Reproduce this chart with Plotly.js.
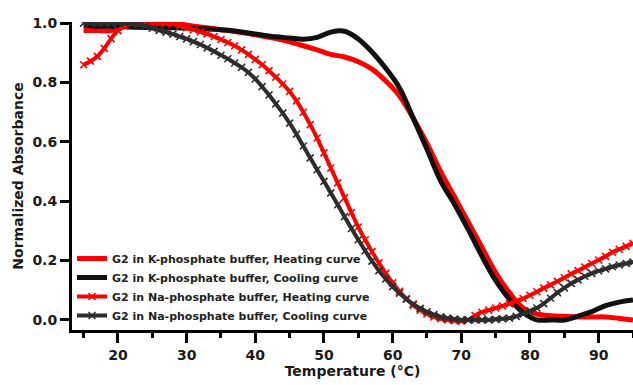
<!DOCTYPE html>
<html>
<head>
<meta charset="utf-8">
<script src="https://cdn.plot.ly/plotly-3.0.1.min.js"></script>
<style>html,body{margin:0;padding:0;background:#fff;}#chart{width:633px;height:385px;}</style>
</head>
<body>
<div id="chart"></div>
<script>
// Temperatures (°C)
const tempK = [15,17,19,21,23,25,27,29,31,33,35,37,39,41,43,45,47,49,51,53,55,57,59,61,63,65,67,69,71,73,75,77,79,81,83,85,87,89,91,93,95];
const tempNa = [15,16,17,18,19,20,21,22,23,24,25,26,27,28,29,30,31,32,33,34,35,36,37,38,39,40,41,42,43,44,45,46,47,48,49,50,51,52,53,54,55,56,57,58,59,60,61,62,63,64,65,66,67,68,69,70,71,72,73,74,75,76,77,78,79,80,81,82,83,84,85,86,87,88,89,90,91,92,93,94,95];

// G2 in K-phosphate buffer
const kHeating = [0.975,0.975,0.975,0.99,0.998,1.0,1.0,0.997,0.99,0.985,0.978,0.972,0.965,0.957,0.948,0.937,0.924,0.91,0.895,0.886,0.87,0.845,0.805,0.755,0.68,0.595,0.5,0.415,0.33,0.245,0.16,0.092,0.04,0.02,0.014,0.012,0.01,0.01,0.01,0.005,0.0];
const kCooling = [0.993,0.99,0.99,0.988,0.986,0.985,0.985,0.984,0.983,0.98,0.978,0.974,0.967,0.96,0.954,0.95,0.946,0.952,0.97,0.973,0.947,0.903,0.848,0.782,0.68,0.575,0.468,0.39,0.305,0.215,0.133,0.07,0.025,0.0,0.0,0.0,0.013,0.028,0.048,0.06,0.067];

// G2 in Na-phosphate buffer
const naHeating = [0.86,0.872,0.888,0.915,0.948,0.975,0.99,0.998,1.0,1.0,1.0,1.0,1.0,0.998,0.992,0.985,0.978,0.971,0.964,0.955,0.945,0.935,0.924,0.91,0.895,0.878,0.86,0.84,0.818,0.795,0.77,0.738,0.7,0.658,0.613,0.563,0.512,0.462,0.412,0.362,0.313,0.27,0.23,0.192,0.157,0.125,0.096,0.071,0.05,0.033,0.02,0.01,0.004,0.0,-0.003,-0.004,0.0,0.015,0.026,0.033,0.04,0.047,0.054,0.063,0.072,0.083,0.095,0.107,0.118,0.13,0.142,0.155,0.166,0.178,0.19,0.202,0.214,0.228,0.238,0.248,0.258];
const naCooling = [1.0,1.0,1.0,1.0,1.0,1.0,1.0,1.0,0.995,0.99,0.983,0.976,0.97,0.963,0.955,0.947,0.938,0.928,0.917,0.905,0.892,0.88,0.866,0.851,0.834,0.812,0.786,0.758,0.728,0.697,0.663,0.626,0.586,0.546,0.506,0.467,0.428,0.388,0.348,0.308,0.27,0.233,0.198,0.166,0.138,0.112,0.09,0.07,0.053,0.039,0.027,0.018,0.01,0.006,0.003,0.0,0.0,0.0,0.0,0.0,0.002,0.004,0.006,0.012,0.02,0.03,0.04,0.055,0.073,0.092,0.108,0.123,0.135,0.147,0.157,0.165,0.172,0.179,0.185,0.19,0.195];

const seriesNames = [
  'G2 in K-phosphate buffer, Heating curve',
  'G2 in K-phosphate buffer, Cooling curve',
  'G2 in Na-phosphate buffer, Heating curve',
  'G2 in Na-phosphate buffer, Cooling curve'
];

const RED = '#ff0000';
const BLACK = '#111111';
const DARK = '#2d2d2d';

const traces = [
  {x: tempK, y: kHeating, name: seriesNames[0], mode: 'lines', line: {color: RED, width: 5, shape: 'spline', smoothing: 1}},
  {x: tempK, y: kCooling, name: seriesNames[1], mode: 'lines', line: {color: BLACK, width: 5, shape: 'spline', smoothing: 1}},
  {x: tempNa, y: naHeating, name: seriesNames[2], mode: 'lines+markers', line: {color: RED, width: 4, shape: 'spline', smoothing: 0.8},
   marker: {symbol: 'x-thin', size: 7, line: {color: RED, width: 1.6}}},
  {x: tempNa, y: naCooling, name: seriesNames[3], mode: 'lines+markers', line: {color: DARK, width: 4, shape: 'spline', smoothing: 0.8},
   marker: {symbol: 'x-thin', size: 7, line: {color: DARK, width: 1.6}}}
];

const FONT = 'DejaVu Sans, Liberation Sans, Arial, sans-serif';

const layout = {
  width: 633, height: 385,
  margin: {l: 72, r: 0, t: 22, b: 55},
  paper_bgcolor: '#ffffff', plot_bgcolor: '#ffffff',
  font: {family: FONT, color: '#1a1a1a', size: 14, weight: 'bold'},
  showlegend: true,
  legend: {
    x: 0.0, y: 0.0, xanchor: 'left', yanchor: 'bottom',
    bgcolor: 'rgba(0,0,0,0)', borderwidth: 0,
    font: {family: FONT, size: 11, color: '#222', weight: 'bold'},
    tracegroupgap: 0, itemwidth: 30
  },
  xaxis: {
    range: [13.31, 95], showgrid: false, zeroline: false,
    showline: true, linecolor: '#000', linewidth: 3,
    ticks: 'outside', ticklen: 10, tickwidth: 3, tickcolor: '#000',
    dtick: 10, tick0: 0,
    minor: {ticks: 'outside', dtick: 5, tick0: 0, ticklen: 5, tickwidth: 3, tickcolor: '#000', showgrid: false},
    tickfont: {family: FONT, size: 14, color: '#1a1a1a', weight: 'bold'},
    title: {text: 'Temperature (°C)', font: {family: FONT, size: 14, color: '#1a1a1a', weight: 'bold'}, standoff: 2}
  },
  yaxis: {
    range: [-0.034, 1.004], showgrid: false, zeroline: false,
    showline: true, linecolor: '#000', linewidth: 3,
    ticks: 'outside', ticklen: 9, tickwidth: 3, tickcolor: '#000',
    dtick: 0.2, tick0: 0, tickformat: '.1f',
    tickfont: {family: FONT, size: 14, color: '#1a1a1a', weight: 'bold'},
    title: {text: 'Normalized Absorbance', font: {family: FONT, size: 14, color: '#1a1a1a', weight: 'bold'}, standoff: 6}
  }
};

Plotly.newPlot('chart', traces, layout, {staticPlot: true, displayModeBar: false});
</script>
</body>
</html>
